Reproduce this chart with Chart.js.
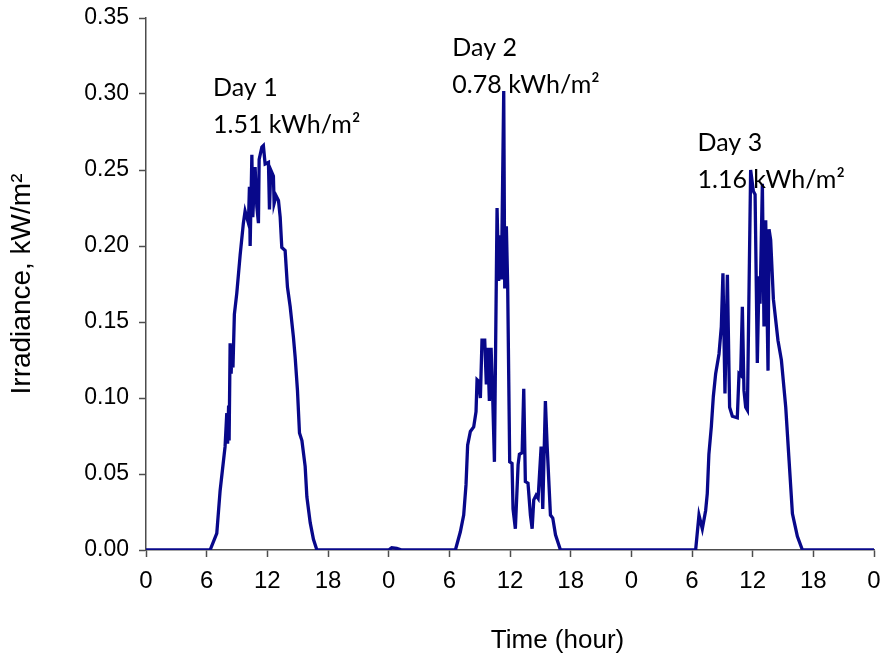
<!DOCTYPE html>
<html>
<head>
<meta charset="utf-8">
<script src="https://cdn.jsdelivr.net/npm/chart.js@4.4.1/dist/chart.umd.min.js"></script>
<style>
  html, body { margin: 0; padding: 0; background: #fff; }
  #wrap { width: 884px; height: 659px; }
</style>
</head>
<body>
<div id="wrap"><canvas id="irradianceChart" width="884" height="659"></canvas></div>
<script>
// Hourly irradiance (kW/m²) over three days
const nightHours = [0, 24, 24.3, 24.8, 25.3, 48, 72];
const nightValues = [0, 0, 0.0015, 0.001, 0, 0, 0];

const day1Hours = [6.34, 7.0, 7.33, 7.82, 7.99, 8.07, 8.17, 8.22, 8.32, 8.42, 8.52, 8.6, 8.74, 8.98, 9.31, 9.63, 9.8,
  10.13, 10.23, 10.3, 10.47, 10.56, 10.79, 10.96, 11.12, 11.19, 11.46, 11.61, 11.78, 12.11, 12.21, 12.34, 12.6,
  12.67, 12.87, 13.1, 13.27, 13.43, 13.76, 13.99, 14.26, 14.58, 14.75, 14.98, 15.18, 15.42, 15.74, 15.91, 16.24,
  16.56, 16.9];
const day1Values = [0, 0.011, 0.039, 0.068, 0.09, 0.07, 0.095, 0.072, 0.136, 0.116, 0.135, 0.12, 0.155, 0.169, 0.194,
  0.215, 0.223, 0.215, 0.239, 0.2, 0.26, 0.219, 0.252, 0.226, 0.215, 0.257, 0.265, 0.266, 0.254, 0.255, 0.224, 0.25,
  0.246, 0.228, 0.233, 0.23, 0.219, 0.199, 0.197, 0.173, 0.16, 0.14, 0.127, 0.105, 0.077, 0.072, 0.055, 0.035, 0.018,
  0.007, 0];

const day2Hours = [30.6, 31.09, 31.42, 31.65, 31.81, 32.08, 32.41, 32.64, 32.74, 32.9, 33.07, 33.23, 33.5, 33.66, 33.8,
  33.96, 34.13, 34.3, 34.46, 34.72, 34.88, 35.05, 35.15, 35.38, 35.48, 35.64, 35.77, 35.97, 36.2, 36.3, 36.53, 36.8,
  36.93, 37.2, 37.36, 37.52, 37.78, 38.02, 38.19, 38.35, 38.58, 38.78, 39.08, 39.24, 39.5, 39.67, 40.0, 40.23, 40.5,
  40.99];
const day2Values = [0, 0.012, 0.023, 0.043, 0.069, 0.078, 0.081, 0.091, 0.112, 0.111, 0.1, 0.138, 0.138, 0.109, 0.133,
  0.098, 0.133, 0.098, 0.058, 0.225, 0.177, 0.207, 0.178, 0.302, 0.172, 0.213, 0.174, 0.058, 0.057, 0.027, 0.014, 0.056,
  0.063, 0.064, 0.106, 0.045, 0.044, 0.023, 0.014, 0.033, 0.036, 0.034, 0.068, 0.027, 0.098, 0.069, 0.023, 0.021, 0.01,
  0];

const day3Hours = [54.36, 54.69, 55.02, 55.35, 55.51, 55.67, 55.91, 56.11, 56.34, 56.67, 56.9, 57.06, 57.26, 57.5, 57.72,
  57.99, 58.48, 58.65, 58.81, 58.98, 59.14, 59.31, 59.48, 59.8, 60.07, 60.24, 60.46, 60.63, 60.73, 60.96, 61.12, 61.29,
  61.52, 61.62, 61.78, 62.05, 62.5, 62.84, 63.27, 63.6, 63.93, 64.42, 64.92];
const day3Values = [0, 0.023, 0.014, 0.026, 0.037, 0.063, 0.081, 0.101, 0.116, 0.129, 0.147, 0.182, 0.103, 0.181, 0.094,
  0.088, 0.087, 0.116, 0.115, 0.16, 0.105, 0.094, 0.092, 0.25, 0.236, 0.234, 0.123, 0.18, 0.162, 0.241, 0.147, 0.217,
  0.118, 0.211, 0.204, 0.165, 0.138, 0.125, 0.094, 0.059, 0.024, 0.009, 0];

// daily labels and where they sit (hour, irradiance of first line)
const dayNames = ["Day 1", "Day 2", "Day 3"];
const dayEnergy = ["1.51 kWh/m²", "0.78 kWh/m²", "1.16 kWh/m²"];
const labelAnchors = [[6.63, 0.304], [30.3, 0.330], [54.55, 0.268]];
const xTitle = "Time (hour)";

function toPoints(hours, values) {
  return hours.map((h, i) => ({ x: h, y: values[i] }));
}

const allPoints = []
  .concat(toPoints(nightHours, nightValues))
  .concat(toPoints(day1Hours, day1Values))
  .concat(toPoints(day2Hours, day2Values))
  .concat(toPoints(day3Hours, day3Values))
  .sort((a, b) => a.x - b.x);

const axisColor = "#4d4d4d";
const arial = "'Liberation Sans', Arial, sans-serif";

// draws the "Day n / energy" notes and the x title (sits right of centre in the original)
const dayLabelsPlugin = {
  id: "dayLabels",
  afterDatasetsDraw(chart) {
    const { ctx, scales } = chart;
    ctx.save();
    ctx.fillStyle = "#000";
    ctx.font = "25px Lato, 'Open Sans', sans-serif";
    ctx.textAlign = "left";
    ctx.textBaseline = "middle";
    labelAnchors.forEach((a, i) => {
      const x = scales.x.getPixelForValue(a[0]);
      const y = scales.y.getPixelForValue(a[1]);
      ctx.fillText(dayNames[i], x, y);
      ctx.fillText(dayEnergy[i], x, y + 37);
    });
    ctx.font = "26px " + arial;
    ctx.textAlign = "center";
    ctx.fillText(xTitle, scales.x.getPixelForValue(40.7), 641);
    ctx.restore();
  },
};

new Chart(document.getElementById("irradianceChart"), {
  type: "line",
  data: {
    datasets: [
      {
        data: allPoints,
        borderColor: "#08088a",
        borderWidth: 3.3,
        pointRadius: 0,
        tension: 0,
        fill: false,
      },
    ],
  },
  options: {
    responsive: false,
    animation: false,
    layout: { padding: { top: 18, right: 10, bottom: 0, left: 0 } },
    plugins: { legend: { display: false }, tooltip: { enabled: false } },
    scales: {
      x: {
        type: "linear",
        min: 0,
        max: 72,
        afterFit: (s) => { s.height = 109; s.paddingLeft = 0; s.paddingRight = 0; },
        ticks: {
          stepSize: 6,
          autoSkip: false,
          maxRotation: 0,
          color: "#000",
          font: { family: arial, size: 24 },
          padding: 10,
          callback: (v) => v % 24,
        },
        grid: { drawOnChartArea: false, tickLength: 7, tickColor: axisColor, tickWidth: 1.5 },
        border: { color: axisColor, width: 1.5 },
      },
      y: {
        min: 0,
        max: 0.35,
        afterFit: (s) => { s.width = 146; s.paddingTop = 0; s.paddingBottom = 0; },
        ticks: {
          stepSize: 0.05,
          color: "#000",
          font: { family: arial, size: 23 },
          padding: 10,
          callback: (v) => v.toFixed(2),
        },
        grid: { drawOnChartArea: false, tickLength: 7, tickColor: axisColor, tickWidth: 1.5 },
        border: { color: axisColor, width: 1.5 },
        title: {
          display: true,
          text: "Irradiance, kW/m²",
          color: "#000",
          font: { family: arial, size: 28 },
          padding: { top: 5, bottom: 0 },
        },
      },
    },
  },
  plugins: [dayLabelsPlugin],
});
</script>
</body>
</html>
